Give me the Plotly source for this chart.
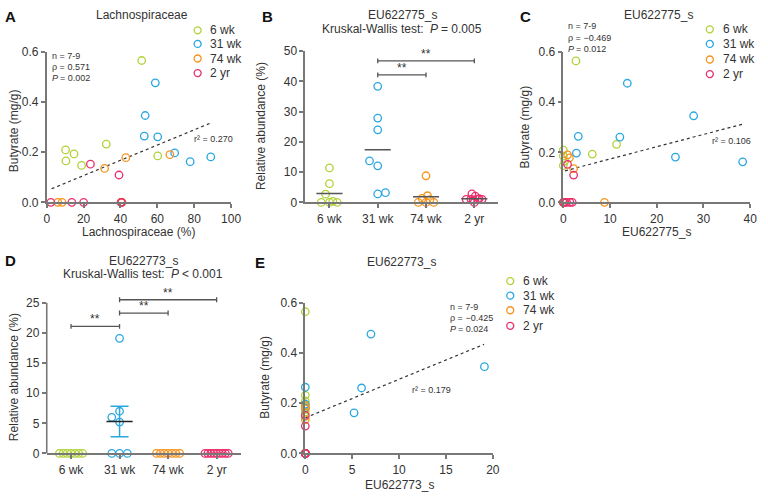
import plotly.graph_objects as go

# ---------------- data ----------------
groups = ["6 wk", "31 wk", "74 wk", "2 yr"]
colors = ["#b0d238", "#29a7e1", "#f7931e", "#ea2e6b"]

# Butyrate (mg/g) per sample, shared by panels A, C, E
butyrate_6wk = [0.565, 0.232, 0.209, 0.193, 0.185, 0.165, 0.147]
butyrate_31wk = [0.476, 0.346, 0.264, 0.261, 0.197, 0.181, 0.162]
butyrate_74wk = [0.190, 0.178, 0.135, 0.0, 0.0, 0.0, 0.0]
butyrate_2yr = [0.152, 0.109, 0.0, 0.0, 0.0, 0.0, 0.0]

# Lachnospiraceae (%) - panel A
lachno_6wk = [51.5, 32.3, 10.2, 14.8, 60.2, 10.4, 18.9]
lachno_31wk = [58.9, 53.4, 52.9, 60.2, 69.4, 89.0, 77.8]
lachno_74wk = [66.8, 42.9, 31.4, 6.0, 8.3, 40.3, 40.8]
lachno_2yr = [23.7, 39.2, 2.2, 13.6, 20.0, 40.6, 40.4]

# EU622775_s (%) - panels B and C
eu775_6wk = [2.7, 11.4, 0.0, 6.2, 0.0, 0.3, 0.0]
eu775_31wk = [13.7, 27.9, 3.2, 12.1, 2.8, 24.0, 38.4]
eu775_74wk = [0.9, 1.3, 2.2, 8.8, 0.0, 0.0, 0.0]
eu775_2yr = [0.9, 2.2, 0.0, 0.7, 1.4, 1.9, 0.3]
eu775_2yr_all = [2.8, 2.1, 1.0, 1.0, 1.0, 1.0, 0.0, 0.8, 1.2]
eu775_means = [2.9, 17.4, 1.9, 1.2]

# EU622773_s (%) - panels D and E
eu773_6wk = [0.0, 0.0, 0.0, 0.0, 0.0, 0.0, 0.0]
eu773_31wk = [7.0, 19.1, 0.0, 6.0, 0.0, 0.0, 5.2]
eu773_74wk = [0.0, 0.0, 0.0, 0.0, 0.0, 0.0, 0.0]
eu773_2yr = [0.0, 0.0, 0.0, 0.0, 0.0, 0.0, 0.0]
eu773_2yr_all = [0.0, 0.0, 0.0, 0.0, 0.0, 0.0, 0.0, 0.0, 0.0]
eu773_means = [0.0, 5.3, 0.0, 0.0]
eu773_sem = [0.0, 2.55, 0.0, 0.0]

# regression line end points
fitA_x, fitA_y = [2.6, 88.6], [0.054, 0.315]
fitC_x, fitC_y = [0.35, 38.5], [0.126, 0.313]
fitE_x, fitE_y = [0.0, 19.06], [0.142, 0.435]

# significance comparisons (group i, group j, height)
sigB = [(1, 3, 46.8), (1, 2, 42.2)]
sigD = [(0, 1, 21.1), (1, 2, 23.3), (1, 3, 25.5)]

# jitter (horizontal spread within a group) for B and D
jitB = [[-0.08, 0.0, -0.17, 0.0, 0.0, 0.07, 0.16],
        [-0.17, 0.0, 0.16, 0.0, 0.0, 0.0, 0.0],
        [0.08, -0.08, 0.03, 0.0, -0.16, 0.0, 0.16],
        [-0.05, 0.02, -0.17, -0.07, 0.07, 0.16, 0.0, -0.02, 0.1]]
jitD = [[-0.24, -0.16, -0.08, 0.0, 0.08, 0.16, 0.24],
        [0.0, 0.0, -0.16, -0.16, 0.0, 0.16, 0.0],
        [-0.24, -0.16, -0.08, 0.0, 0.08, 0.16, 0.24],
        [-0.24, -0.18, -0.12, -0.06, 0.0, 0.06, 0.12, 0.18, 0.24]]

# ---------------- helpers ----------------
W, H = 768, 500
FONT = "Liberation Sans, Arial, Helvetica, sans-serif"
AX = "#787878"
TXT = "#333333"


def px(x):
    return x / W


def py(y):
    return 1 - y / H


fig = go.Figure()

butyrate = [butyrate_6wk, butyrate_31wk, butyrate_74wk, butyrate_2yr]
lachno = [lachno_6wk, lachno_31wk, lachno_74wk, lachno_2yr]
eu775 = [eu775_6wk, eu775_31wk, eu775_74wk, eu775_2yr]
eu775_B = [eu775_6wk, eu775_31wk, eu775_74wk, eu775_2yr_all]
eu773 = [eu773_6wk, eu773_31wk, eu773_74wk, eu773_2yr]
eu773_D = [eu773_6wk, eu773_31wk, eu773_74wk, eu773_2yr_all]

MK = 7.5
MLW = 1.3


def marker(c):
    return dict(symbol="circle-open", size=MK, color=c, line=dict(width=MLW, color=c))


# ---- scatter panels A (x,y), C (x3,y3), E (x5,y5)
for xs_all, ax, fx, fy in [(lachno, "", fitA_x, fitA_y),
                           (eu775, "3", fitC_x, fitC_y),
                           (eu773, "5", fitE_x, fitE_y)]:
    fig.add_trace(go.Scatter(x=fx, y=fy, mode="lines",
                             line=dict(color="#333", width=1.2, dash="dot"),
                             xaxis="x" + ax, yaxis="y" + ax, showlegend=False,
                             hoverinfo="skip"))
    for g in range(4):
        fig.add_trace(go.Scatter(x=xs_all[g], y=butyrate[g], mode="markers",
                                 marker=marker(colors[g]), name=groups[g],
                                 xaxis="x" + ax, yaxis="y" + ax,
                                 showlegend=False, cliponaxis=False))

# ---- dot plots B (x2,y2) and D (x4,y4)
for vals, jit, ax in [(eu775_B, jitB, "2"), (eu773_D, jitD, "4")]:
    for g in range(4):
        fig.add_trace(go.Scatter(x=[g + j for j in jit[g]], y=vals[g], mode="markers",
                                 marker=marker(colors[g]), name=groups[g],
                                 xaxis="x" + ax, yaxis="y" + ax,
                                 showlegend=False, cliponaxis=False))

# error bar for D (mean +/- SEM)
for g in range(4):
    if eu773_sem[g] > 0:
        fig.add_trace(go.Scatter(x=[g], y=[eu773_means[g]], mode="markers",
                                 marker=dict(size=1, color="rgba(0,0,0,0)"),
                                 error_y=dict(type="data", array=[eu773_sem[g]],
                                              color=colors[g], thickness=1.5, width=9),
                                 xaxis="x4", yaxis="y4", showlegend=False))

# mean lines
for means, ax, cols in [(eu775_means, "2", ["#555"] * 4),
                        (eu773_means, "4", [colors[0], "#222", colors[2], colors[3]])]:
    for g in range(4):
        fig.add_trace(go.Scatter(x=[g - 0.27, g + 0.27], y=[means[g], means[g]],
                                 mode="lines", line=dict(color=cols[g], width=1.5),
                                 xaxis="x" + ax, yaxis="y" + ax, showlegend=False,
                                 hoverinfo="skip", cliponaxis=False))

shapes = []
annotations = []

# significance brackets
for sig, ax, cap in [(sigB, "2", 0.8), (sigD, "4", 0.4)]:
    for a, b, h in sig:
        path = (f"M {a},{h - cap} L {a},{h + cap} M {a},{h} L {b},{h} "
                f"M {b},{h - cap} L {b},{h + cap}")
        shapes.append(dict(type="path", path=path, xref="x" + ax, yref="y" + ax,
                           line=dict(color="#555", width=1.3)))
        annotations.append(dict(x=(a + b) / 2, y=h, xref="x" + ax, yref="y" + ax,
                                text="**", showarrow=False, yanchor="middle",
                                yshift=7, font=dict(size=12, color=TXT, family=FONT)))

# D's y axis line only spans 0-25 (the range is a bit taller to fit the brackets)
shapes.append(dict(type="line", xref="x4 domain", yref="y4", x0=0, x1=0, y0=0, y1=25,
                   line=dict(color=AX, width=1.6)))


def ann(x, y, text, size=12, xanchor="center", yanchor="middle", angle=0,
        bold=False):
    t = f"<b>{text}</b>" if bold else text
    annotations.append(dict(x=px(x), y=py(y), xref="paper", yref="paper", text=t,
                            showarrow=False, xanchor=xanchor, yanchor=yanchor,
                            textangle=angle, borderpad=0,
                            font=dict(size=size, color=TXT if not bold else "#111",
                                      family=FONT)))


def ktest(x_colon_end, y, rest):
    ann(x_colon_end, y, "Kruskal-Wallis test:", xanchor="right")
    ann(x_colon_end + 4, y, "<i>P</i>", xanchor="left")
    ann(x_colon_end + 15.5, y, rest, xanchor="left")


def stats(x, y, rho, p):
    ann(x, y, "n = 7-9", size=9, xanchor="left")
    ann(x, y + 11.5, "ρ = " + rho, size=9, xanchor="left")
    ann(x, y + 23, "<i>P</i>", size=9, xanchor="left")
    ann(x + 8, y + 23, "= " + p, size=9, xanchor="left")


# panel letters
for letter, x, y in [("A", 8, 10), ("B", 269, 10), ("C", 531, 10), ("D", 8, 261), ("E", 261, 263)]:
    ann(x, y, letter, size=15, bold=True)

# titles
ann(141, 8, "Lachnospiraceae")
ann(406, 8, "EU622775_s")
ktest(429, 22.5, "= 0.005")
ann(667, 8, "EU622775_s")
ann(143, 261, "EU622773_s")
ktest(166, 275, "&lt; 0.001")
ann(405, 262, "EU622773_s")

# axis titles
ann(138, 231, "Lachnospiraceae (%)")
ann(665, 231, "EU622775_s")
ann(403, 492, "EU622773_s")
ann(12, 127, "Butyrate (mg/g)", angle=-90)
ann(262, 123, "Relative abundance (%)", angle=-90)
ann(530, 124, "Butyrate (mg/g)", angle=-90)
ann(12, 381, "Relative abundance (%)", angle=-90)
ann(267, 381, "Butyrate (mg/g)", angle=-90)

# statistics text
stats(49, 50, "0.571", "0.002")
stats(574, 20, "−0.469", "0.012")
stats(454, 308.5, "−0.425", "0.024")
ann(193, 136, "r² = 0.270", size=9, xanchor="left")
ann(720, 138, "r² = 0.106", size=9, xanchor="left")
ann(415, 394, "r² = 0.179", size=9, xanchor="left")

# legends
for cx, tx, rows in [(198, 210, [24, 38, 53, 68]),
                     (719, 731, [23, 38, 54, 69]),
                     (516, 528, [282, 297, 312, 328])]:
    for g in range(4):
        shapes.append(dict(type="circle", xref="paper", yref="paper",
                           xsizemode="pixel", ysizemode="pixel",
                           xanchor=px(cx), yanchor=py(rows[g]),
                           x0=-3.5, x1=3.5, y0=-3.5, y1=3.5,
                           line=dict(color=colors[g], width=1.3)))
        ann(tx, rows[g], groups[g], size=12, xanchor="left")


def axis(domain, rng, **kw):
    d = dict(domain=domain, range=rng, showline=True, linecolor=AX, linewidth=1.6,
             ticks="outside", ticklen=4, tickwidth=1.5, tickcolor=AX,
             showgrid=False, zeroline=False, fixedrange=True,
             tickfont=dict(size=12, color=TXT, family=FONT))
    d.update(kw)
    return d


yfmt = dict(tickvals=[0, 0.2, 0.4, 0.6], ticktext=["0.0", "0.2", "0.4", "0.6"])
cat = dict(tickvals=[0, 1, 2, 3], ticktext=groups)

D_top = 459.3 - 27 * (155.0 / 25)   # pixel row of y=27 in panel D

fig.update_layout(
    width=W, height=H, margin=dict(l=0, r=0, t=0, b=0),
    paper_bgcolor="white", plot_bgcolor="white", showlegend=False,
    font=dict(family=FONT, color=TXT),
    xaxis=axis([px(44.5), px(232)], [0, 100], anchor="y",
               tickvals=[0, 20, 40, 60, 80, 100]),
    yaxis=axis([py(201), py(46)], [0, 0.6], anchor="x", **yfmt),
    xaxis2=axis([px(307.5), px(504)], [-0.5, 3.5], anchor="y2", **cat),
    yaxis2=axis([py(201), py(45.5)], [0, 50], anchor="x2",
                tickvals=[0, 10, 20, 30, 40, 50]),
    xaxis3=axis([px(570), px(760)], [0, 40], anchor="y3",
                tickvals=[0, 10, 20, 30, 40]),
    yaxis3=axis([py(201), py(46.5)], [0, 0.6], anchor="x3", **yfmt),
    xaxis4=axis([px(44.5), px(242)], [-0.5, 3.5], anchor="y4", **cat),
    yaxis4=axis([py(459.3), py(D_top)], [0, 27], anchor="x4", showline=False,
                tickvals=[0, 5, 10, 15, 20, 25]),
    xaxis5=axis([px(307.5), px(498.3)], [0, 20], anchor="y5",
                tickvals=[0, 5, 10, 15, 20]),
    yaxis5=axis([py(459.3), py(304.5)], [0, 0.6], anchor="x5", **yfmt),
    shapes=shapes, annotations=annotations,
)

fig.write_html("out.html", config={"displayModeBar": False},
               post_script="document.body.style.margin='0';document.body.style.overflow='hidden';")
